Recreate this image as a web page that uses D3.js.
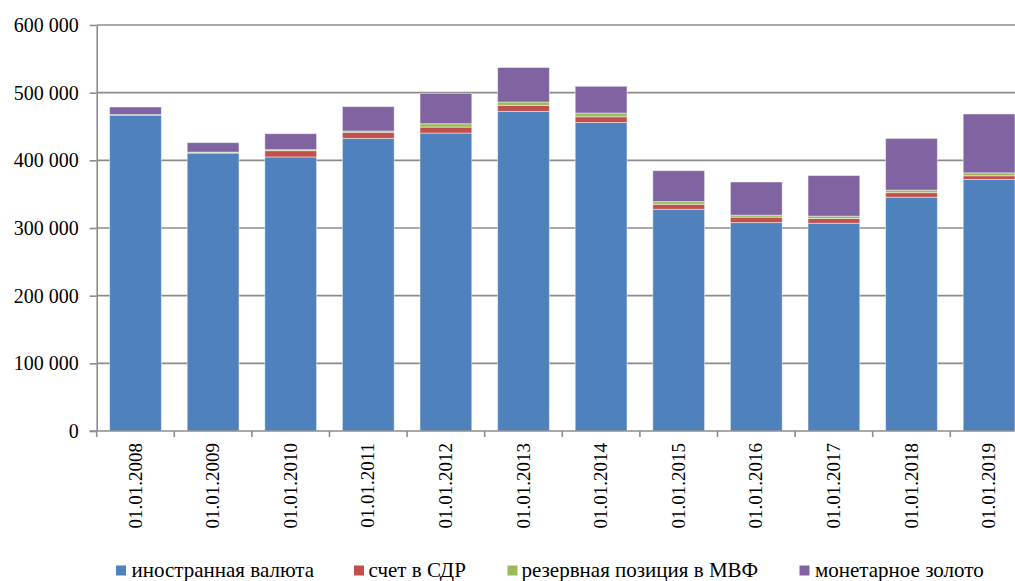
<!DOCTYPE html>
<html>
<head>
<meta charset="utf-8">
<script src="https://cdn.jsdelivr.net/npm/d3@7"></script>
</head>
<body style="margin:0;padding:0;background:#fff">
<svg id="chart" width="1015" height="581" style="display:block"></svg>
<script>
// Reserve structure, million USD, by date
const dates = ["01.01.2008","01.01.2009","01.01.2010","01.01.2011","01.01.2012","01.01.2013",
               "01.01.2014","01.01.2015","01.01.2016","01.01.2017","01.01.2018","01.01.2019"];
const foreignCurrency = [466800, 410700, 405000, 432500, 440300, 472300, 455900, 327600, 308000, 307000, 345500, 371700];
const sdrAccount      = [   500,    500,   9300,   8900,   8800,   8900,   8500,   7400,   8000,   7000,   6800,   5500];
const imfPosition     = [   300,   1000,   1500,   2000,   5000,   5000,   5500,   4000,   3000,   3500,   3600,   4300];
const monetaryGold    = [ 11200,  14000,  23600,  36000,  44900,  51000,  39500,  45700,  49000,  60000,  76500,  87000];
const seriesNames  = ["иностранная валюта", "счет в СДР", "резервная позиция в МВФ", "монетарное золото"];
const seriesColors = ["#4F81BD", "#C0504D", "#9BBB59", "#8064A2"];
const yTicks = [0, 100000, 200000, 300000, 400000, 500000, 600000];

const FONT = "'Liberation Serif', 'Times New Roman', serif";

const svg = d3.select("#chart");
const plot = { left: 96.7, right: 1027.9, top: 25, bottom: 431 };

const rows = dates.map((d, i) => ({
  date: d,
  s0: foreignCurrency[i], s1: sdrAccount[i], s2: imfPosition[i], s3: monetaryGold[i]
}));
const keys = ["s0", "s1", "s2", "s3"];
const stacked = d3.stack().keys(keys)(rows);

const x = d3.scaleBand().domain(dates).range([plot.left, plot.right])
  .paddingInner(0.333).paddingOuter(0.1665);
const y = d3.scaleLinear().domain([0, 600000]).range([plot.bottom, plot.top]);

const fmt = v => d3.format(",")(v).replace(/,/g, " ");

// horizontal gridlines
svg.append("g").selectAll("line").data(yTicks.filter(t => t > 0)).join("line")
  .attr("x1", plot.left).attr("x2", 1015)
  .attr("y1", d => y(d)).attr("y2", d => y(d))
  .attr("stroke", "#8c8c8c").attr("stroke-width", 1.6);

// stacked bars
svg.append("g").selectAll("g").data(stacked).join("g")
  .attr("fill", (d, i) => seriesColors[i])
  .selectAll("rect").data(d => d).join("rect")
  .attr("x", d => x(d.data.date))
  .attr("width", x.bandwidth())
  .attr("y", d => y(d[1]))
  .attr("height", d => y(d[0]) - y(d[1]))
  .attr("stroke", "rgba(255,255,255,0.45)").attr("stroke-width", 1);

// y axis
const yAxis = svg.append("g").attr("transform", `translate(${plot.left},0)`)
  .call(d3.axisLeft(y).tickValues(yTicks).tickSize(7).tickSizeOuter(0).tickFormat(fmt));
yAxis.select(".domain").attr("stroke", "#8c8c8c").attr("stroke-width", 1.6);
yAxis.selectAll(".tick line").attr("stroke", "#8c8c8c").attr("stroke-width", 1.6);
yAxis.selectAll(".tick text")
  .style("font-family", FONT)
  .style("font-size", "20px")
  .attr("fill", "#000")
  .attr("x", -18)
  .attr("dy", "0.33em");

// x axis
const xAxisG = svg.append("g");
xAxisG.append("line")
  .attr("x1", plot.left - 7).attr("x2", 1015)
  .attr("y1", plot.bottom).attr("y2", plot.bottom)
  .attr("stroke", "#8c8c8c").attr("stroke-width", 1.6);
const step = x.step();
const boundaries = d3.range(dates.length + 1).map(i => plot.left + i * step).filter(v => v <= 1015);
xAxisG.selectAll("line.tk").data(boundaries).join("line").attr("class", "tk")
  .attr("x1", d => d).attr("x2", d => d)
  .attr("y1", plot.bottom).attr("y2", plot.bottom + 6)
  .attr("stroke", "#8c8c8c").attr("stroke-width", 1.6);
xAxisG.selectAll("text").data(dates).join("text")
  .attr("transform", d => `translate(${x(d) + x.bandwidth() / 2 + 6},443) rotate(-90)`)
  .attr("text-anchor", "end")
  .style("font-family", FONT)
  .style("font-size", "19px")
  .text(d => d);

// legend
const legendItems = [
  { sq: 116, tx: 131.5 },
  { sq: 354, tx: 368.5 },
  { sq: 507.5, tx: 521.5 },
  { sq: 799.5, tx: 815 }
];
const lg = svg.append("g");
legendItems.forEach((it, i) => {
  lg.append("rect").attr("x", it.sq).attr("y", 565.5).attr("width", 10).attr("height", 10)
    .attr("fill", seriesColors[i]);
  lg.append("text").attr("x", it.tx).attr("y", 577)
    .style("font-family", FONT)
    .style("font-size", "21px")
    .text(seriesNames[i]);
});
</script>
</body>
</html>
